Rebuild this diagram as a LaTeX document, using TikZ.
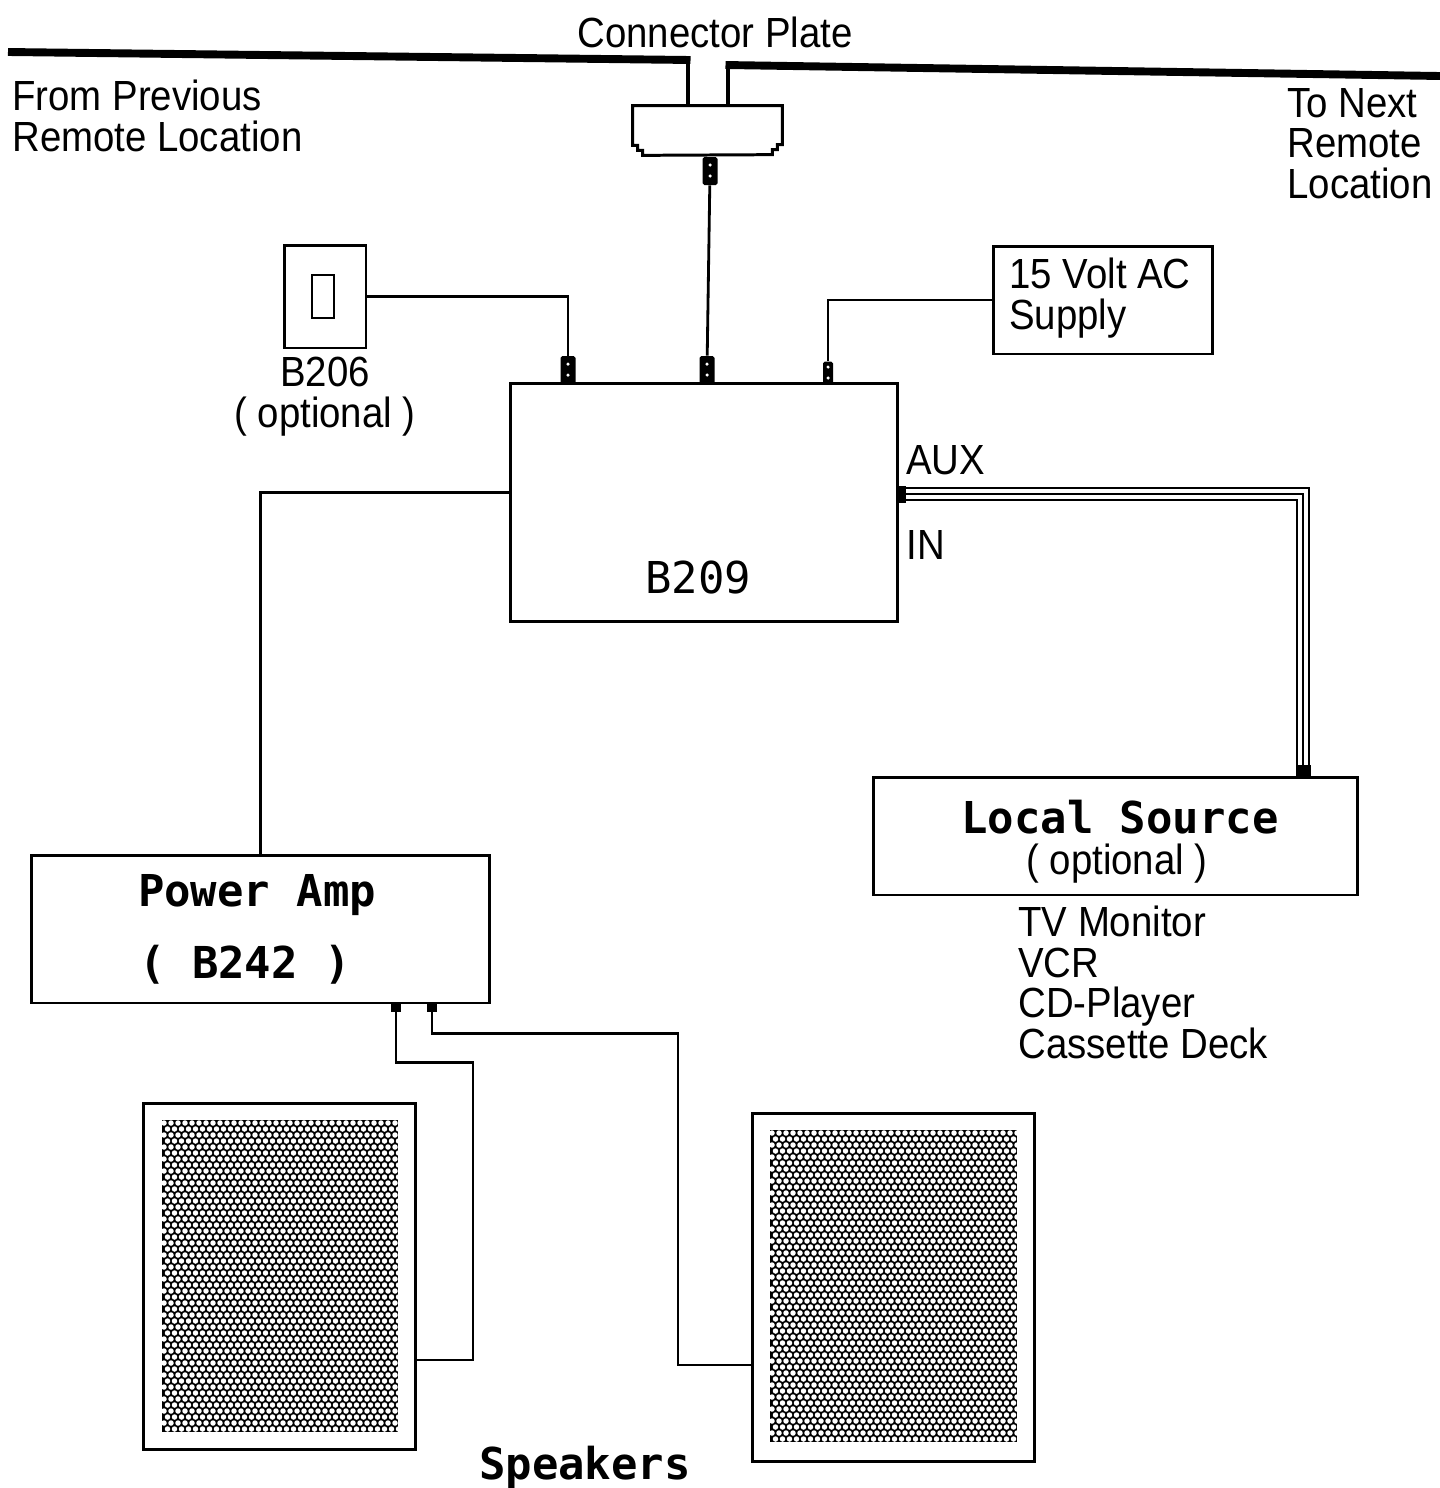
\documentclass[tikz,border=0pt]{standalone}
\usepackage{fontspec}
\setmainfont[FakeStretch=0.91]{Liberation Sans}
\newfontfamily\monofont{DejaVu Sans Mono}
\usetikzlibrary{positioning,calc}
\tikzset{
  box/.style={draw, line width=1.7pt, inner sep=0pt},
  wire/.style={line width=1.6pt},
  bar/.style={line width=4.5pt},
  drop/.style={line width=2.4pt},
  plug/.style={fill=black, inner sep=0pt, minimum width=0.3cm, minimum height=0.56cm, rounded corners=1pt,
    path picture={\fill[white] ([yshift=0.12cm]path picture bounding box.center) circle (0.035cm)
      ([yshift=-0.1cm]path picture bounding box.center) circle (0.035cm);}},
  stub/.style={fill=black, inner sep=0pt, minimum width=0.2cm, minimum height=0.16cm},
  lbl/.style={font=\fontsize{24}{23}\selectfont, inner sep=0pt},
  mlbl/.style={font=\monofont\bfseries\fontsize{25}{25}\selectfont, inner sep=0pt},
}
\begin{document}
\begin{tikzpicture}[x=0.02cm, y=-0.02cm]
\useasboundingbox (0,0) rectangle (1440,1488);

\node[lbl] (cplate) at (715,32) {Connector Plate};
\node[lbl, align=left, anchor=north west] (prev) at (12,80) {From Previous\\Remote Location};
\node[lbl, align=left, anchor=north west] (next) at (1287,88) {To Next\\Remote\\Location};

\coordinate (barLend) at (8,52);
\coordinate (barL) at (688,60);
\coordinate (barR) at (728,65);
\coordinate (barRend) at (1440,76);

\node[minimum width=2.98cm, minimum height=0.98cm, inner sep=0pt] (plate) at (707.5,130.5) {};
\draw[box] (plate.north west) -- (plate.north east) -- ++(0,39) -- ++(-5,0) -- ++(0,5) -- ++(-5,0) -- ++(0,5)
  -- ($(plate.south west)+(10,0)$) -- ++(0,-5) -- ++(-5,0) -- ++(0,-5) -- ++(-5,0) -- cycle;
\draw[bar] (barLend) -- ([xshift=0.05cm]barL);
\draw[bar] ([xshift=-0.05cm]barR) -- (barRend);
\draw[drop] (barL) -- (barL |- plate.north);
\draw[drop] (barR) -- (barR |- plate.north);

\node[box, minimum width=7.76cm, minimum height=4.78cm] (b209) at (704,502.5) {};
\node[font=\monofont\fontsize{25}{25}\selectfont, inner sep=0pt] (b209lbl) at (698,578) {B209};

\node[plug] (pplate) at (710,171) {};
\node[plug] (pmid) at (707,370) {};
\node[plug] (pleft) at (568,370) {};
\node[plug, minimum width=0.2cm, minimum height=0.46cm] (pright) at (828,373) {};
\draw[wire] (pplate) -- (pmid);

\node[box, minimum width=1.64cm, minimum height=2.06cm] (b206) at (325,296.5) {};
\node[box, line width=1.4pt, minimum width=0.44cm, minimum height=0.86cm] (sw) at (323,296.5) {};
\node[lbl, align=center, below=0.15cm of b206] (b206lbl) {B206\\( optional )};
\draw[wire] (pleft) |- (b206.east);

\node[box, minimum width=4.4cm, minimum height=2.16cm] (supply) at (1103,300) {};
\node[lbl, align=left, anchor=west] (supplylbl) at (1009,298) {15 Volt AC\\Supply};
\draw[wire] (pright) |- (supply.west);

\node[lbl, anchor=west] (aux) at (906,460) {AUX};
\node[lbl, anchor=west] (inlbl) at (906,545) {IN};

\node[box, minimum width=9.7cm, minimum height=2.36cm] (src) at (1115.5,836) {};
\node[mlbl] (srclbl) at (1120,817) {Local Source};
\node[lbl] (srcopt) at (1117,864) {( optional )};
\node[lbl, align=left, anchor=north west] (devices) at (1018,906) {TV Monitor\\VCR\\CD-Player\\Cassette Deck};
\foreach \d/\s in {0.29/3.87, 0.17/3.75, 0.05/3.63}
  \draw[line width=1.3pt] ([yshift=\d cm]b209.east) -| ([xshift=\s cm]src.north);
\node[fill=black, inner sep=0pt, minimum width=0.16cm, minimum height=0.34cm] (paux) at (902,494) {};
\node[fill=black, inner sep=0pt, minimum width=0.3cm, minimum height=0.24cm] (psrc) at (1303,771) {};

\node[box, minimum width=9.18cm, minimum height=2.96cm] (amp) at (260.5,929) {};
\node[mlbl] (amplbl) at (257,895) {Power Amp};
\node[mlbl] (ampnum) at (245,965) {( B242 )};
\draw[wire] ([yshift=0.2cm]b209.west) -| (amp.north);

\node[box, minimum width=5.46cm, minimum height=6.94cm] (spk1) at (279.5,1276.5) {};
\node[fill=black, minimum width=4.72cm, minimum height=6.24cm, inner sep=0pt] (grille1) at (280,1276) {};
\node[box, minimum width=5.66cm, minimum height=6.98cm] (spk2) at (893.5,1287.5) {};
\node[fill=black, minimum width=4.94cm, minimum height=6.24cm, inner sep=0pt] (grille2) at (893.5,1286) {};
\begin{scope}
\clip (grille1.north west) rectangle (grille1.south east);
\foreach \r in {0,...,52} \foreach \c in {0,...,34}
  \fill[white] ({164+\c*7+mod(\r,2)*3.5},{1123+\r*6}) circle (0.055cm);
\end{scope}
\begin{scope}
\clip (grille2.north west) rectangle (grille2.south east);
\foreach \r in {0,...,52} \foreach \c in {0,...,36}
  \fill[white] ({772+\c*7+mod(\r,2)*3.5},{1133+\r*6}) circle (0.055cm);
\end{scope}

\node[stub] (pa1) at (396,1008) {};
\node[stub] (pa2) at (432,1008) {};
\draw[wire] (pa1.south) -- ++(0,50) -- ++(77,0) |- ([yshift=-1.67cm]spk1.east);
\draw[wire] (pa2.south) -- ++(0,21) -- ++(246,0) |- ([yshift=-1.55cm]spk2.west);
\node[mlbl] (spklbl) at (585,1467) {Speakers};
\end{tikzpicture}
\end{document}
